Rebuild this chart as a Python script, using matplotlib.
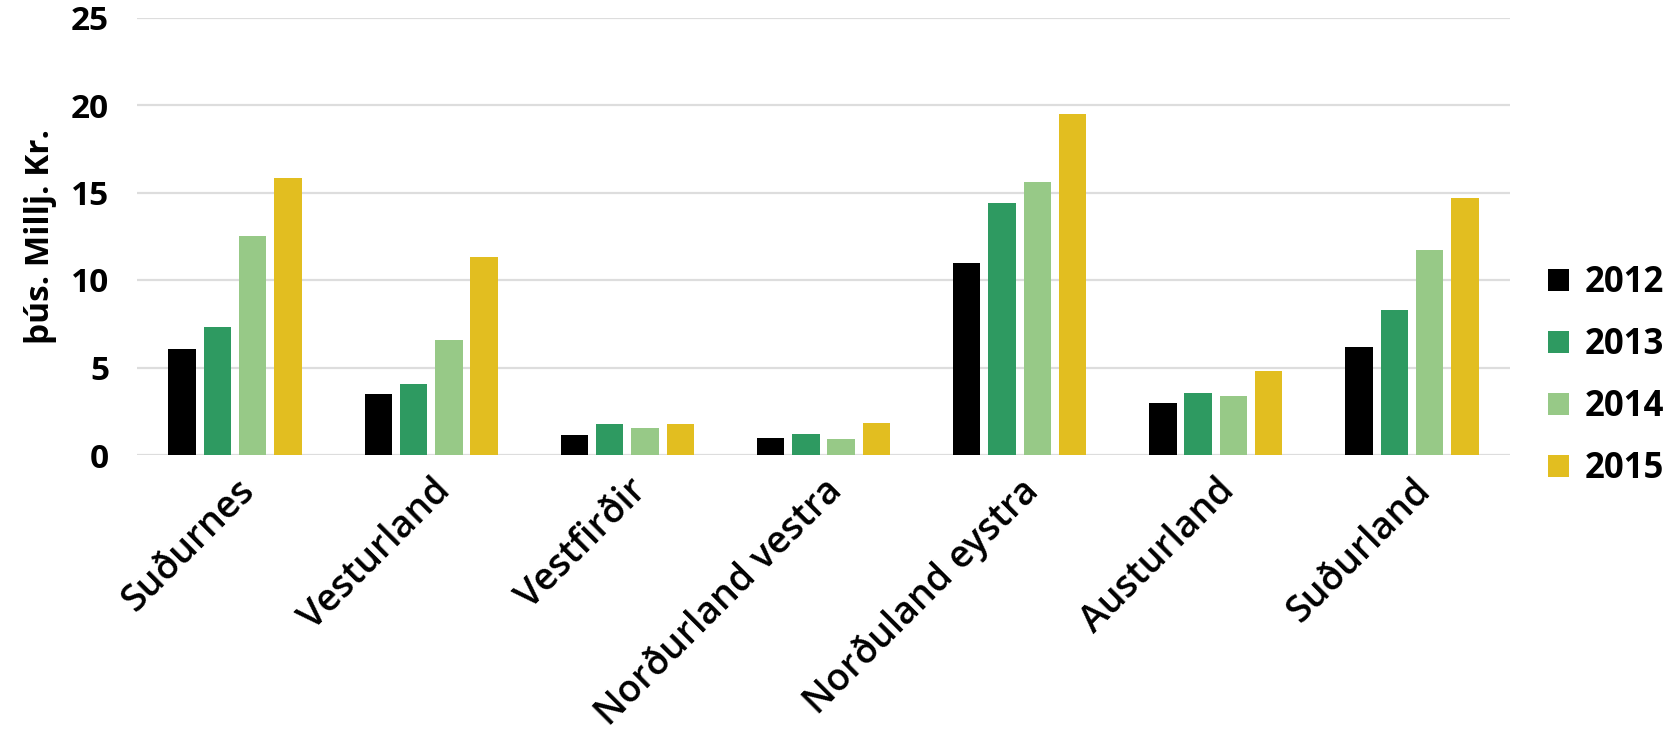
import matplotlib
matplotlib.use("Agg")
import matplotlib.pyplot as plt
import numpy as np

plt.rcParams['font.family'] = ['Open Sans', 'DejaVu Sans']

regions = ["Suðurnes", "Vesturland", "Vestfirðir", "Norðurland vestra",
           "Norðuland eystra", "Austurland", "Suðurland"]
years = ["2012", "2013", "2014", "2015"]
v2012 = [6.05, 3.5, 1.15, 1.0, 10.95, 3.0, 6.15]
v2013 = [7.3, 4.05, 1.75, 1.2, 14.4, 3.55, 8.3]
v2014 = [12.5, 6.55, 1.55, 0.9, 15.6, 3.4, 11.7]
v2015 = [15.85, 11.3, 1.75, 1.85, 19.5, 4.8, 14.7]
colors = ["#000000", "#2E9A61", "#97C987", "#E2BE20"]

series = [v2012, v2013, v2014, v2015]

fig = plt.figure(figsize=(16.73, 7.37), dpi=100)
ax = fig.add_axes([137/1673, 1 - 455/737, (1510 - 137)/1673, (455 - 17.5)/737])

x = np.arange(len(regions))
width = 0.14
step = 0.18
for i, (vals, col, yr) in enumerate(zip(series, colors, years)):
    ax.bar(x + (i - 1.5) * step, vals, width, color=col, label=yr, zorder=3)

ax.set_xlim(-0.5, len(regions) - 0.5)
ax.set_ylim(0, 25)
ax.set_yticks([0, 5, 10, 15, 20, 25])
ax.yaxis.grid(True, color="#DDDDDD", linewidth=1.6, zorder=0)
ax.set_axisbelow(True)
for s in ax.spines.values():
    s.set_visible(False)
ax.tick_params(axis='both', length=0)
ax.tick_params(axis='y', pad=20)
for lab in ax.get_yticklabels():
    lab.set_fontsize(24)
    lab.set_fontweight('bold')

ax.set_xticks(x)
ax.set_xticklabels(regions, rotation=45, ha='right', rotation_mode='anchor',
                   fontsize=27, fontweight='semibold')
ax.tick_params(axis='x', pad=12)

ax.set_ylabel("þús. Millj. Kr.", fontsize=24, fontweight='bold', labelpad=10)

leg = ax.legend(loc='center left', bbox_to_anchor=(1.005, 0.18), frameon=False,
                fontsize=25, handlelength=0.6, handleheight=0.6,
                handletextpad=0.45, labelspacing=0.75)
for t in leg.get_texts():
    t.set_fontweight('bold')

fig.savefig("out.png", dpi=100)
